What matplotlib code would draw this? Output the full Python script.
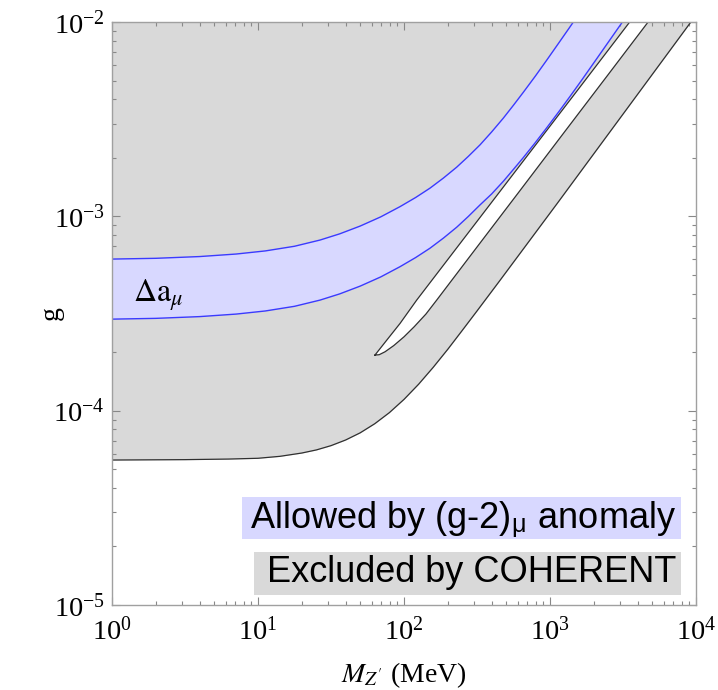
import numpy as np
import matplotlib
matplotlib.use("Agg")
import matplotlib.pyplot as plt
from matplotlib.patches import Rectangle
from matplotlib.ticker import LogLocator, NullFormatter

plt.rcParams['mathtext.fontset'] = 'stix'
plt.rcParams['font.family'] = ['Liberation Serif', 'DejaVu Serif']

# COHERENT exclusion boundary (log10 M [MeV], log10 g)
coh_logm = [0.0, 0.5, 0.8, 1.0, 1.15, 1.3, 1.4, 1.5, 1.6, 1.7, 1.8, 1.9, 2.0,
            2.1, 2.2, 2.3, 2.4, 2.5, 2.65, 3.05, 3.965]
coh_logg = [-4.254, -4.252, -4.249, -4.245, -4.235, -4.218, -4.202, -4.180, -4.151,
            -4.114, -4.067, -4.010, -3.942, -3.864, -3.777, -3.684, -3.586, -3.487,
            -3.337, -2.933, -2.0]

# (g-2)_mu band, upper edge
amu_hi_logm = [0.0, 0.30, 0.60, 0.85, 1.05, 1.25, 1.425, 1.56, 1.70, 1.84, 1.973, 2.08,
               2.178, 2.27, 2.361, 2.44, 2.521, 2.60, 2.68, 2.75, 2.818, 2.90, 2.977,
               3.06, 3.137, 3.16]
amu_hi_logg = [-3.220, -3.216, -3.207, -3.194, -3.178, -3.154, -3.122, -3.090, -3.050,
               -3.003, -2.950, -2.903, -2.855, -2.803, -2.747, -2.692, -2.632, -2.566,
               -2.495, -2.428, -2.361, -2.278, -2.197, -2.108, -2.025, -2.0]
# (g-2)_mu band, lower edge
amu_lo_logm = [0.0, 0.30, 0.60, 0.85, 1.05, 1.25, 1.425, 1.56, 1.70, 1.84, 1.973, 2.08,
               2.178, 2.27, 2.361, 2.44, 2.521, 2.60, 2.68, 2.75, 2.818, 2.90, 2.977,
               3.06, 3.137, 3.22, 3.319, 3.40, 3.468, 3.496]
amu_lo_logg = [-3.529, -3.525, -3.516, -3.503, -3.487, -3.463, -3.431, -3.399, -3.359,
               -3.312, -3.259, -3.212, -3.164, -3.112, -3.056, -3.001, -2.941, -2.885,
               -2.820, -2.758, -2.697, -2.620, -2.545, -2.462, -2.383, -2.296, -2.190,
               -2.103, -2.030, -2.0]

# allowed island inside the COHERENT region (left edge up, right edge down)
isl_left_logm = [1.801, 1.882, 1.973, 2.087, 2.4, 2.8, 3.2, 3.546]
isl_left_logg = [-3.714, -3.637, -3.551, -3.431, -3.124, -2.732, -2.340, -2.0]
isl_right_logm = [3.672, 3.4, 3.1, 2.8, 2.5, 2.224, 2.15, 2.07, 2.00, 1.93, 1.87,
                  1.83, 1.801]
isl_right_logg = [-2.0, -2.269, -2.565, -2.862, -3.158, -3.431, -3.503, -3.568, -3.620,
                  -3.665, -3.697, -3.712, -3.714]

xmin, xmax = 1.0, 1e4
ymin, ymax = 1e-5, 1e-2

coh_m, coh_g = 10.0 ** np.array(coh_logm), 10.0 ** np.array(coh_logg)
hi_m, hi_g = 10.0 ** np.array(amu_hi_logm), 10.0 ** np.array(amu_hi_logg)
lo_m, lo_g = 10.0 ** np.array(amu_lo_logm), 10.0 ** np.array(amu_lo_logg)
isl_m = 10.0 ** np.array(isl_left_logm + isl_right_logm)
isl_g = 10.0 ** np.array(isl_left_logg + isl_right_logg)

grey = '#d9d9d9'
lav = '#d8d8ff'
blue = '#3a3aff'
edge = '#303030'

W, H = 718, 690
fig = plt.figure(figsize=(W / 100, H / 100), dpi=100)
ax = fig.add_axes([112 / W, 1 - 605 / H, 584 / W, 583 / H])
ax.set_xscale('log')
ax.set_yscale('log')

# excluded region above the COHERENT bound
ax.fill_between(coh_m, coh_g, ymax, color=grey, lw=0, zorder=1)
ax.plot(coh_m, coh_g, color=edge, lw=0.9, zorder=3)

# island that survives
ax.fill(isl_m, isl_g, color='white', lw=0, zorder=2)
ax.plot(isl_m, isl_g, color=edge, lw=0.9, zorder=3)

# (g-2) band
ax.fill(np.concatenate([hi_m, lo_m[::-1]]), np.concatenate([hi_g, lo_g[::-1]]),
        color=lav, lw=0, zorder=2)
ax.plot(hi_m, hi_g, color=blue, lw=1.0, zorder=3)
ax.plot(lo_m, lo_g, color=blue, lw=1.0, zorder=3)

ax.text(10 ** 0.144, 10 ** -3.441, r'$\Delta\mathrm{a}_{\mu}$', fontsize=23, zorder=4)

ax.set_xlim(xmin, xmax)
ax.set_ylim(ymin, ymax)

for s in ax.spines.values():
    s.set_color('#a0a0a0')
    s.set_linewidth(1.0)
    s.set_zorder(5)

ax.xaxis.set_major_locator(LogLocator(base=10, numticks=10))
ax.yaxis.set_major_locator(LogLocator(base=10, numticks=10))
ax.xaxis.set_minor_locator(LogLocator(base=10, subs=np.arange(2, 10), numticks=20))
ax.yaxis.set_minor_locator(LogLocator(base=10, subs=np.arange(2, 10), numticks=20))
ax.xaxis.set_minor_formatter(NullFormatter())
ax.yaxis.set_minor_formatter(NullFormatter())
ax.tick_params(which='both', direction='in', top=True, right=True, color='#888888',
               labelsize=20.5, width=0.8)
ax.tick_params(which='major', length=6)
ax.tick_params(which='minor', length=3)
ax.tick_params(axis='y', which='major', pad=5)
ax.tick_params(axis='x', which='major', pad=9)

ax.set_ylabel('g', fontsize=20)
ax.yaxis.set_label_coords(-0.082, 0.5)
ax.set_xlabel(r"$M_{Z'}$ (MeV)", fontsize=20, labelpad=10)

# legend boxes (pixel geometry of the figure)
def box(x0, x1, y0, y1, color):
    fig.patches.append(Rectangle((x0 / W, 1 - y1 / H), (x1 - x0) / W, (y1 - y0) / H,
                                 transform=fig.transFigure, facecolor=color,
                                 edgecolor='none', zorder=6))

box(242, 681, 497, 539, lav)
box(254, 681, 552, 595, grey)
fig.text(676 / W, 1 - 528 / H, 'Allowed by (g-2)$_{\\mathregular{μ}}$ anomaly',
         ha='right', va='baseline', fontsize=26, family='Liberation Sans', zorder=7)
fig.text(676 / W, 1 - 582 / H, 'Excluded by COHERENT',
         ha='right', va='baseline', fontsize=26, family='Liberation Sans', zorder=7)

fig.savefig('out.png', dpi=100)
